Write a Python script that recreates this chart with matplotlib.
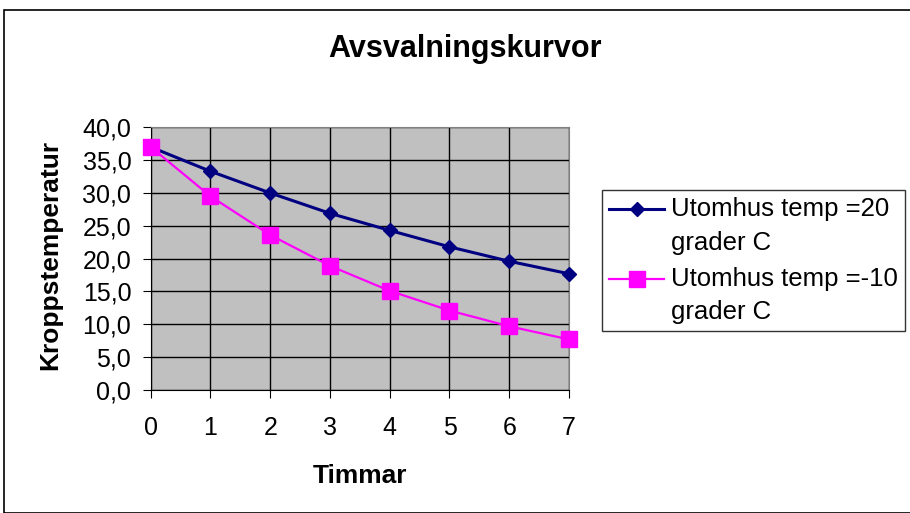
import numpy as np
import matplotlib.pyplot as plt
from matplotlib.patches import Rectangle
from matplotlib.legend_handler import HandlerLine2D

plt.rcParams['font.family'] = ['Liberation Sans', 'DejaVu Sans']

timmar = [0, 1, 2, 3, 4, 5, 6, 7]
temp_plus20 = [37.0, 33.3, 30.0, 26.9, 24.3, 21.8, 19.6, 17.7]
temp_minus10 = [37.0, 29.5, 23.6, 18.9, 15.1, 12.1, 9.7, 7.7]
yticks = [0, 5, 10, 15, 20, 25, 30, 35, 40]


class FirstLineHandler(HandlerLine2D):
    # flytta symbolen upp till första textraden
    def create_artists(self, legend, orig_handle, xdescent, ydescent, width, height, fontsize, trans):
        arts = super().create_artists(legend, orig_handle, xdescent, ydescent,
                                      width, height, fontsize, trans)
        for a in arts:
            a.set_ydata(np.asarray(a.get_ydata()) + 0.66 * fontsize)
        return arts


fig = plt.figure(figsize=(9.1, 5.13), dpi=100)
# yttre ram
fig.patches.append(Rectangle((4 / 910, 0), 1.0, 1 - 10 / 513, transform=fig.transFigure,
                             fill=False, edgecolor='black', linewidth=1.2))

ax = fig.add_axes([150.7 / 910, 1 - 390 / 513, (569 - 150.7) / 910, (390 - 127.3) / 513])
ax.set_facecolor('#C0C0C0')

ax.plot(timmar, temp_plus20, color='#000080', marker='D', markersize=7, linewidth=2.2,
        label='Utomhus temp =20\ngrader C', zorder=3, clip_on=False)
ax.plot(timmar, temp_minus10, color='#FF00FF', marker='s', markersize=11, linewidth=1.6,
        label='Utomhus temp =-10\ngrader C', zorder=4, clip_on=False)

ax.set_xlim(0, 7)
ax.set_ylim(0, 40)
ax.set_xticks(timmar)
ax.set_yticks(yticks)
ax.set_yticklabels([f'{v:.1f}'.replace('.', ',') for v in yticks])
ax.grid(True, color='black', linewidth=1)
ax.set_axisbelow(True)
ax.tick_params(labelsize=18, length=6, color='black')
ax.tick_params(axis='x', pad=13)
ax.tick_params(axis='y', pad=8)
for s in ['top', 'right']:
    ax.spines[s].set_color('#808080')
for s in ['left', 'bottom']:
    ax.spines[s].set_color('black')

ax.set_xlabel('Timmar', fontsize=19, fontweight='bold', labelpad=17)
ax.set_ylabel('Kroppstemperatur', fontsize=19, fontweight='bold')
ax.yaxis.set_label_coords(-0.212, 0.516)

fig.text(465 / 910, 1 - 57 / 513, 'Avsvalningskurvor', ha='center', va='baseline',
         fontsize=22, fontweight='bold')

leg = ax.legend(loc='upper left', bbox_to_anchor=(602 / 910, 1 - 190 / 513),
                bbox_transform=fig.transFigure, fontsize=18.5, frameon=True, fancybox=False,
                borderpad=0.28, handlelength=2.15, handletextpad=0.25, labelspacing=0.47,
                borderaxespad=0, handler_map={plt.Line2D: FirstLineHandler()})
for t in leg.get_texts():
    t.set_linespacing(1.5)
leg.get_frame().set_edgecolor('black')
leg.get_frame().set_linewidth(1)

fig.savefig('out.png', dpi=100)
